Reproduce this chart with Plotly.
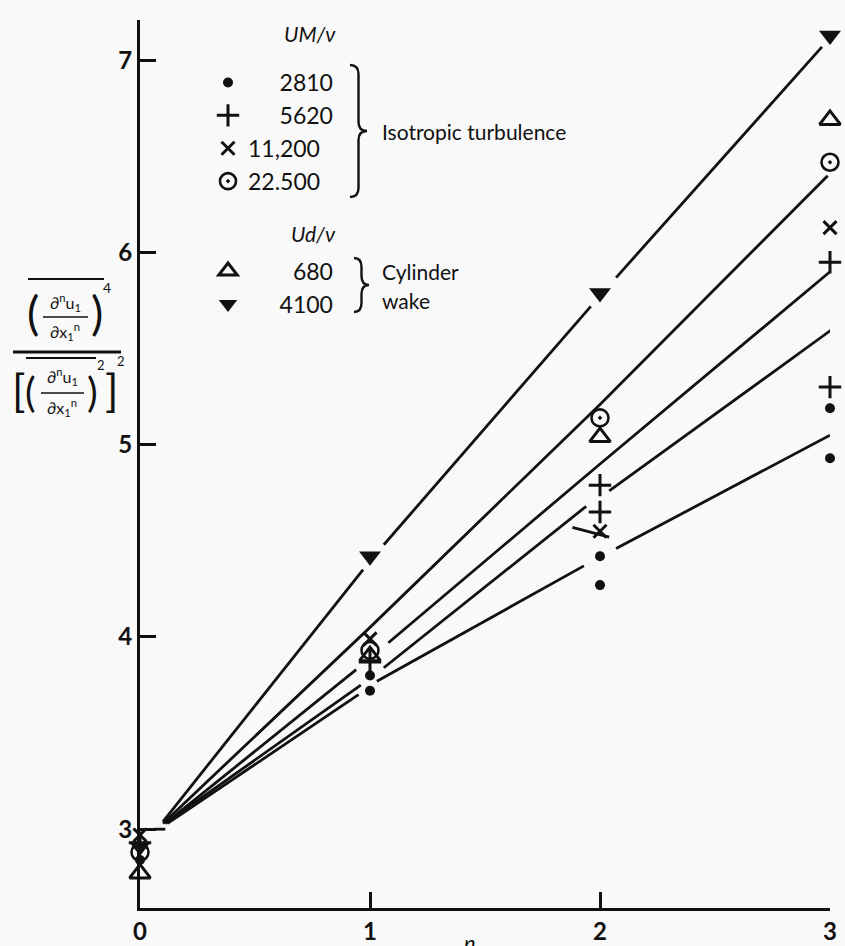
import plotly.graph_objects as go

# ---------------- data ----------------
# measured points, x = n (order of derivative)
x_2810 = [0, 1, 1, 2, 2, 3, 3]
y_2810 = [2.84, 3.80, 3.72, 4.42, 4.27, 5.19, 4.93]
x_5620 = [0, 1, 2, 2, 3, 3]
y_5620 = [2.93, 3.87, 4.79, 4.65, 5.95, 5.30]
x_11200 = [0, 1, 2, 3]
y_11200 = [2.97, 3.99, 4.55, 6.13]
x_22500 = [0, 1, 2, 3]
y_22500 = [2.88, 3.93, 5.14, 6.47]
x_680 = [0, 1, 2, 3]
y_680 = [2.77, 3.90, 5.04, 6.69]
x_4100 = [0, 1, 2, 3]
y_4100 = [2.91, 4.42, 5.79, 7.13]

# drawn curves (broken where they meet the symbols)
fit_top_x = [0.10, 0.97, None, 1.06, 1.96, None, 2.07, 2.965]
fit_top_y = [3.04, 4.35, None, 4.48, 5.72, None, 5.87, 7.07]
fit_a_x = [0.10, 1.00, 2.00, 2.99]
fit_a_y = [3.03, 4.05, 5.21, 6.40]
fit_b_x = [0.11, 0.94, None, 1.08, 2.00, 3.01]
fit_b_y = [3.03, 3.83, None, 3.97, 4.90, 5.91]
fit_c_x = [0.11, 0.96, None, 1.06, 1.94, None, 1.88, 2.04, None, 2.04, 3.02]
fit_c_y = [3.03, 3.75, None, 3.84, 4.68, None, 4.57, 4.52, None, 4.76, 5.61]
fit_d_x = [0.12, 0.95, None, 1.03, 1.93, None, 2.07, 3.00]
fit_d_y = [3.03, 3.70, None, 3.77, 4.37, None, 4.46, 5.05]
dash_x = [0.06, 0.11]
dash_y = [3.00, 3.00]

x_ticks = [0, 1, 2, 3]
y_ticks = [3, 4, 5, 6, 7]

# ---------------- layout helpers ----------------
W, H = 845, 946
ML, MR, MT, MB = 140, 15, 20, 38
PW, PH = W - ML - MR, H - MT - MB
INK = "#111111"
BG = "#f9f9f9"
FONT = "Lato"


def px(xp):
    return (xp - ML) / PW


def py(yp):
    return (H - MB - yp) / PH


fig = go.Figure()

for fx, fy in [(fit_top_x, fit_top_y), (fit_a_x, fit_a_y), (fit_b_x, fit_b_y),
               (fit_c_x, fit_c_y), (fit_d_x, fit_d_y), (dash_x, dash_y)]:
    fig.add_trace(go.Scatter(x=fx, y=fy, mode="lines", showlegend=False,
                             line=dict(color=INK, width=2.8), hoverinfo="skip",
                             cliponaxis=False))

FS = "\u2007"   # figure space
PS = "\u2008"   # punctuation space

series = [
    ("UM", FS + FS + PS + "2810", x_2810, y_2810,
     dict(symbol="circle", size=10, color=INK)),
    ("UM", FS + FS + PS + "5620", x_5620, y_5620,
     dict(symbol="cross-thin", size=16, color=INK, line=dict(color=INK, width=3))),
    ("UM", "11,200", x_11200, y_11200,
     dict(symbol="x-thin", size=13, color=INK, line=dict(color=INK, width=3))),
    ("UM", "22.500", x_22500, y_22500,
     dict(symbol="circle-open-dot", size=17, color=INK, line=dict(color=INK, width=2.6))),
    ("Ud", FS + FS + FS + PS + "680", x_680, y_680,
     dict(symbol="triangle-up-open", size=18, color=INK, line=dict(color=INK, width=3))),
    ("Ud", FS + FS + PS + "4100", x_4100, y_4100,
     dict(symbol="triangle-down", size=19, color=INK)),
]
for grp, name, xs, ys, mk in series:
    fig.add_trace(go.Scatter(
        x=xs, y=ys, mode="markers", name=name, marker=mk, cliponaxis=False,
        legendgroup=grp,
    ))

# ---------------- annotations & shapes ----------------
ann = []
shp = []


def text(t, xp, yp, size, xanchor="center", yanchor="middle", **kw):
    ann.append(dict(text=t, x=px(xp), y=py(yp), xref="paper", yref="paper",
                    showarrow=False, xanchor=xanchor, yanchor=yanchor,
                    font=dict(family=FONT, size=size, color=INK, **kw)))


def hline(x0, x1, yp, w):
    shp.append(dict(type="line", xref="paper", yref="paper", x0=px(x0), x1=px(x1),
                    y0=py(yp), y1=py(yp), line=dict(color=INK, width=w)))


def brace(xl, xt, y0, y1):
    xm = (xl + xt) / 2
    ym = (y0 + y1) / 2
    r = 9
    pts = [("M", [(xl, y0)]), ("Q", [(xm, y0), (xm, y0 + r)]), ("L", [(xm, ym - r)]),
           ("Q", [(xm, ym), (xt, ym)]), ("Q", [(xm, ym), (xm, ym + r)]),
           ("L", [(xm, y1 - r)]), ("Q", [(xm, y1), (xl, y1)])]
    path = " ".join(c + " " + " ".join(f"{px(a):.5f},{py(b):.5f}" for a, b in p)
                    for c, p in pts)
    shp.append(dict(type="path", xref="paper", yref="paper", path=path,
                    line=dict(color=INK, width=2.4)))


# legend group titles, braces and labels
text("<i>UM/\u03bd</i>", 338, 33, 21, xanchor="right")
text("<i>Ud/\u03bd</i>", 338, 233, 21, xanchor="right")
brace(350, 367, 65, 197)
text("Isotropic turbulence", 380, 131, 21, xanchor="left")
brace(354, 369, 258, 312)
text("Cylinder", 380, 271, 21, xanchor="left")
text("wake", 380, 300, 21, xanchor="left")

# y-axis label (fraction)
num_top = "\u2202<sup>n</sup>u<sub>1</sub>"
num_bot = "\u2202x<sub>1</sub><sup>n</sup>"
text("(", 33, 312, 46)
text(")", 97, 312, 46)
text("4", 107, 287, 14)
text(num_top, 65, 302, 16)
hline(43, 88, 317, 1.6)
text(num_bot, 65, 332, 16)
hline(28, 104, 279, 2)
hline(13, 121, 352, 3)
text("[", 18, 390, 44)
text("]", 111, 390, 44)
hline(26, 96, 358, 2)
text("(", 31, 392, 40)
text(")", 92, 392, 40)
text("2", 101, 365, 13)
text("2", 121, 361, 13)
text(num_top, 62, 377, 16)
hline(41, 84, 393, 1.6)
text(num_bot, 62, 407, 16)

# x-axis label (cut by the page edge as in the reference)
text("<i>n</i>", 470, 927, 22, yanchor="top")

axis_common = dict(showgrid=False, zeroline=False, showline=True, linecolor=INK,
                   linewidth=3, ticks="inside", ticklen=16, tickwidth=3,
                   tickcolor=INK, automargin=False,
                   tickfont=dict(family=FONT, size=24, color=INK, weight="bold"))

fig.update_layout(
    width=W, height=H,
    margin=dict(l=ML, r=MR, t=MT, b=MB, autoexpand=False),
    paper_bgcolor=BG, plot_bgcolor=BG,
    font=dict(family=FONT, color=INK),
    showlegend=True,
    legend=dict(x=px(208), y=py(61), xanchor="left", yanchor="top",
                bgcolor="rgba(0,0,0,0)", font=dict(family=FONT, size=23, color=INK),
                tracegroupgap=57, itemwidth=30, traceorder="grouped"),
    annotations=ann, shapes=shp,
    xaxis=dict(range=[0, 3], tickvals=x_ticks, ticktext=[str(v) for v in x_ticks],
               **axis_common),
    yaxis=dict(range=[2.59, 7.21], tickvals=y_ticks, ticktext=[str(v) for v in y_ticks],
               **axis_common),
)

fig.write_html(
    "out.html",
    config=dict(displayModeBar=False),
    post_script="document.body.style.margin='0';document.body.style.background='" + BG + "';",
)
